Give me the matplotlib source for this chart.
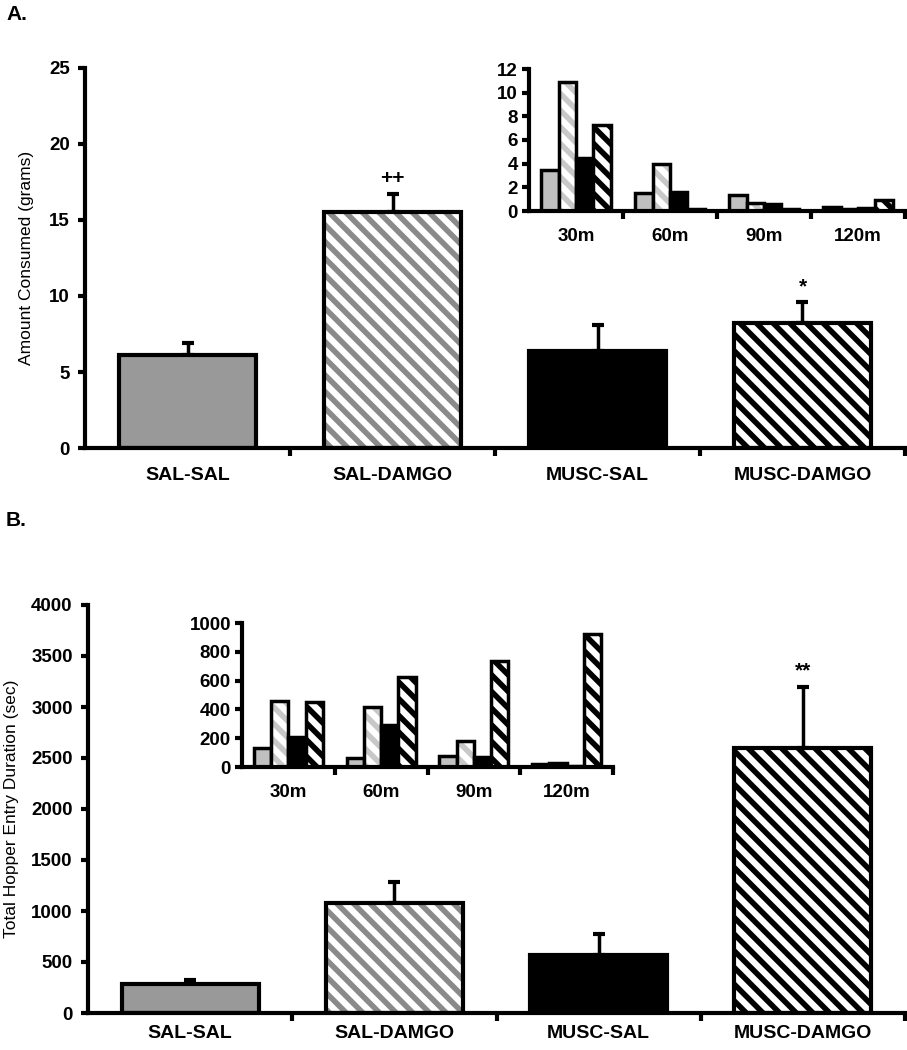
import numpy as np
import matplotlib
matplotlib.use('Agg')
from matplotlib import pyplot as plt

plt.rcParams['font.family'] = ['Liberation Sans', 'DejaVu Sans']
plt.rcParams['hatch.linewidth'] = 4.0

groups = ['SAL-SAL', 'SAL-DAMGO', 'MUSC-SAL', 'MUSC-DAMGO']
bins = ['30m', '60m', '90m', '120m']

# panel A: amount consumed (grams)
a_mean = [6.1, 15.5, 6.4, 8.2]
a_err = [0.8, 1.2, 1.7, 1.4]
a_sig = ['', '++', '', '*']
a_sal_sal = [3.5, 1.5, 1.35, 0.35]
a_sal_damgo = [10.9, 3.95, 0.7, 0.2]
a_musc_sal = [4.5, 1.6, 0.55, 0.25]
a_musc_damgo = [7.3, 0.15, 0.15, 0.9]

# panel B: total hopper entry duration (sec)
b_mean = [280, 1080, 570, 2600]
b_err = [40, 200, 200, 600]
b_sig = ['', '', '', '**']
b_sal_sal = [130, 60, 75, 20]
b_sal_damgo = [455, 420, 180, 25]
b_musc_sal = [210, 290, 70, 5]
b_musc_damgo = [450, 625, 735, 925]

W, H = 907, 1050
styles = [
    dict(face='#999999', hatch=None, hcol=None),
    dict(face='white', hatch='\\\\', hcol='#8a8a8a'),
    dict(face='black', hatch=None, hcol=None),
    dict(face='white', hatch='\\\\', hcol='black'),
]
inset_styles = [
    dict(face='#c0c0c0', hatch=None, hcol=None),
    dict(face='white', hatch='\\\\', hcol='#c8c8c8'),
    dict(face='black', hatch=None, hcol=None),
    dict(face='white', hatch='\\\\', hcol='black'),
]


def add_ax(fig, x0, y_top, x1, y_bot):
    return fig.add_axes([x0 / W, 1 - y_bot / H, (x1 - x0) / W, (y_bot - y_top) / H])


def styled_bar(ax, x, h, width, st, lw):
    if st['hatch']:
        ax.bar(x, h, width, color=st['face'], edgecolor=st['hcol'],
               hatch=st['hatch'], linewidth=0, zorder=2)
        ax.bar(x, h, width, fill=False, edgecolor='black', linewidth=lw, zorder=3)
    else:
        ax.bar(x, h, width, color=st['face'], edgecolor='black', linewidth=lw, zorder=2)


def style_axes(ax, n, ymax, step, fs):
    for s in ['top', 'right']:
        ax.spines[s].set_visible(False)
    for s in ['left', 'bottom']:
        ax.spines[s].set_linewidth(3)
    ax.set_xlim(-0.5, n - 0.5)
    ax.set_ylim(0, ymax)
    ax.set_yticks(np.arange(0, ymax + step / 2, step))
    ax.set_xticks(np.arange(n))
    ax.set_xticks(np.arange(n) + 0.5, minor=True)
    ax.tick_params(axis='x', which='major', length=0, pad=14)
    ax.tick_params(axis='x', which='minor', length=6, width=3, direction='out')
    ax.tick_params(axis='y', length=5, width=3, direction='out', pad=6)
    for lab in ax.get_yticklabels():
        lab.set_fontweight('bold')
        lab.set_fontsize(fs)


def main_panel(ax, means, errs, sigs, ymax, step, ylabel, sig_off):
    x = np.arange(len(groups))
    ax.errorbar(x, means, yerr=[[0] * len(errs), errs], fmt='none', ecolor='black',
                elinewidth=2.5, capsize=4, capthick=3, zorder=1)
    for i in range(len(groups)):
        styled_bar(ax, x[i], means[i], 0.67, styles[i], 3)
        if sigs[i]:
            ax.text(x[i], means[i] + errs[i] + sig_off, sigs[i], ha='center', va='bottom',
                    fontsize=15, fontweight='bold')
    style_axes(ax, len(groups), ymax, step, 13.5)
    ax.set_xticklabels(groups, fontsize=14, fontweight='bold')
    ax.set_ylabel(ylabel, fontsize=12.5)


def inset_panel(ax, series, ymax, step):
    x = np.arange(len(bins))
    w = 0.186
    for k, vals in enumerate(series):
        for i in range(len(bins)):
            styled_bar(ax, x[i] + (k - 1.5) * w, vals[i], w, inset_styles[k], 2.5)
    style_axes(ax, len(bins), ymax, step, 13.5)
    ax.set_xticklabels(bins, fontsize=13.5, fontweight='bold')
    ax.tick_params(axis='x', which='major', pad=12)
    ax.tick_params(axis='y', pad=3)


fig = plt.figure(figsize=(W / 100, H / 100), dpi=100)

axA = add_ax(fig, 85, 68, 905, 448)
main_panel(axA, a_mean, a_err, a_sig, 25, 5, 'Amount Consumed (grams)', 0.4)
axA.yaxis.set_label_coords(-0.062, 0.5)
insA = add_ax(fig, 529, 69, 905, 211)
inset_panel(insA, [a_sal_sal, a_sal_damgo, a_musc_sal, a_musc_damgo], 12, 2)

axB = add_ax(fig, 88, 605, 905, 1013)
main_panel(axB, b_mean, b_err, b_sig, 4000, 500, 'Total Hopper Entry Duration (sec)', 60)
axB.tick_params(axis='x', which='major', pad=9)
axB.yaxis.set_label_coords(-0.084, 0.5)
insB = add_ax(fig, 242, 623, 613, 767)
inset_panel(insB, [b_sal_sal, b_sal_damgo, b_musc_sal, b_musc_damgo], 1000, 200)

fig.text(6 / W, 1 - 14 / H, 'A.', fontsize=15, fontweight='bold', va='center')
fig.text(6 / W, 1 - 520 / H, 'B.', fontsize=15, fontweight='bold', va='center')

fig.savefig('out.png', dpi=100)
